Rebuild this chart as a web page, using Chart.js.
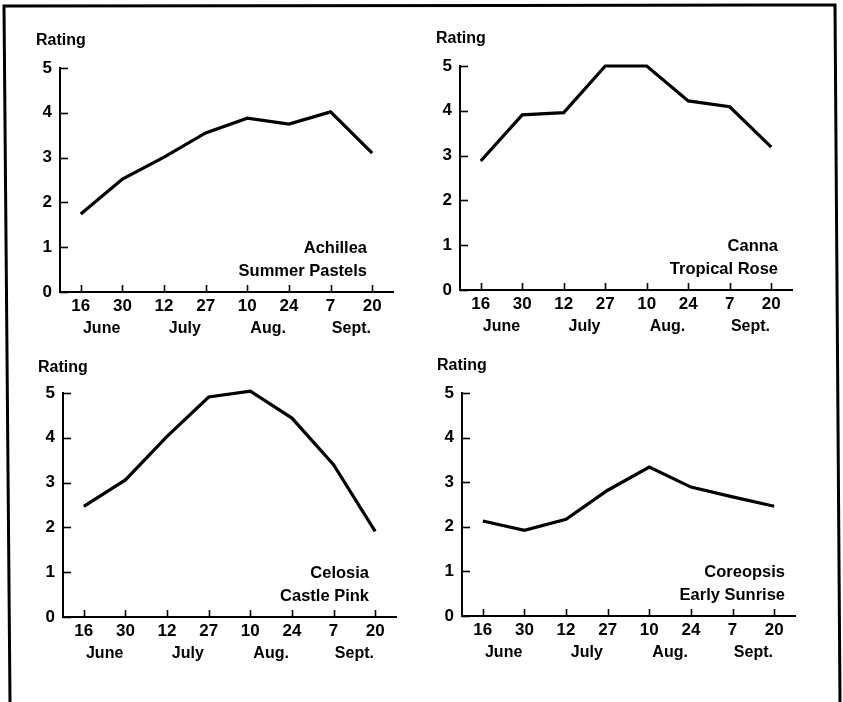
<!DOCTYPE html>
<html>
<head>
<meta charset="utf-8">
<script src="https://cdn.jsdelivr.net/npm/chart.js@4"></script>
<style>
  html, body { margin: 0; padding: 0; background: #fff; }
  #wrap { position: relative; width: 843px; height: 702px; overflow: hidden; background: #fff; }
  canvas { position: absolute; }
  svg { position: absolute; left: 0; top: 0; }
</style>
</head>
<body>
<div id="wrap">
  <canvas id="c1" width="421" height="345" style="left:0px;top:0px"></canvas>
  <canvas id="c2" width="422" height="345" style="left:421px;top:0px"></canvas>
  <canvas id="c3" width="421" height="357" style="left:0px;top:345px"></canvas>
  <canvas id="c4" width="422" height="357" style="left:421px;top:345px"></canvas>
  <svg width="843" height="702">
    <polyline points="10,702 4,6 835,5 840,702" fill="none" stroke="#000" stroke-width="3"/>
  </svg>
</div>
<script>
// ---- data ----
const categories = ['16', '30', '12', '27', '10', '24', '7', '20'];
const months = ['June', 'July', 'Aug.', 'Sept.'];
const yTicks = [0, 1, 2, 3, 4, 5];
const yAxisLabel = 'Rating';
const achillea = [1.74, 2.52, 3.01, 3.55, 3.88, 3.75, 4.02, 3.10];
const canna = [2.88, 3.91, 3.96, 5.00, 5.00, 4.22, 4.09, 3.19];
const celosia = [2.47, 3.06, 4.03, 4.91, 5.04, 4.44, 3.40, 1.91];
const coreopsis = [2.13, 1.92, 2.17, 2.82, 3.34, 2.89, 2.67, 2.46];
const names1 = ['Achillea', 'Summer Pastels'];
const names2 = ['Canna', 'Tropical Rose'];
const names3 = ['Celosia', 'Castle Pink'];
const names4 = ['Coreopsis', 'Early Sunrise'];

// ---- layout (positions only) ----
const panels = [
  { id: 'c1', values: achillea, names: names1, padTop: 68, yW: 60, padRight: 28, xH: 53, nameRight: 26, ratingDy: 23, ratingDx: 24 },
  { id: 'c2', values: canna, names: names2, padTop: 66, yW: 39, padRight: 51, xH: 55, nameRight: 14, ratingDy: 23, ratingDx: 24 },
  { id: 'c3', values: celosia, names: names3, padTop: 48, yW: 63, padRight: 25, xH: 85, nameRight: 27, ratingDy: 21, ratingDx: 25 },
  { id: 'c4', values: coreopsis, names: names4, padTop: 48, yW: 41, padRight: 48, xH: 86, nameRight: 10, ratingDy: 23, ratingDx: 25 }
];

const FONT = "'Liberation Sans', Arial, sans-serif";

const decoPlugin = {
  id: 'deco',
  afterDraw(chart, args, opts) {
    const ctx = chart.ctx;
    const ca = chart.chartArea;
    const xs = chart.scales.x, ys = chart.scales.y;
    ctx.save();
    ctx.strokeStyle = '#000';
    ctx.lineWidth = 1.6;
    // y tick marks (inside)
    ys.ticks.forEach(t => {
      const y = Math.round(ys.getPixelForValue(t.value)) + 0.5;
      ctx.beginPath();
      ctx.moveTo(ca.left, y);
      ctx.lineTo(ca.left + 8, y);
      ctx.stroke();
    });
    // x tick marks (inside)
    categories.forEach((c, i) => {
      const x = Math.round(xs.getPixelForValue(i)) + 0.5;
      ctx.beginPath();
      ctx.moveTo(x, ca.bottom);
      ctx.lineTo(x, ca.bottom - 7);
      ctx.stroke();
    });
    ctx.fillStyle = '#000';
    // months centered between pairs
    ctx.font = 'bold 16px ' + FONT;
    ctx.textAlign = 'center';
    ctx.textBaseline = 'alphabetic';
    months.forEach((m, k) => {
      const x = xs.getPixelForValue(2 * k + 0.5);
      ctx.fillText(m, x, ca.bottom + opts.monthDy);
    });
    // Rating label
    ctx.textAlign = 'left';
    ctx.font = 'bold 16px ' + FONT;
    ctx.fillText(yAxisLabel, ca.left - opts.ratingDx, ca.top - opts.ratingDy);
    // plant names
    ctx.textAlign = 'right';
    ctx.font = 'bold 16.5px ' + FONT;
    ctx.fillText(opts.names[0], ca.right - opts.nameRight, ca.bottom - 39);
    ctx.fillText(opts.names[1], ca.right - opts.nameRight, ca.bottom - 16);
    ctx.restore();
  }
};

panels.forEach(p => {
  new Chart(document.getElementById(p.id), {
    type: 'line',
    data: {
      labels: categories,
      datasets: [{
        data: p.values,
        borderColor: '#000',
        borderWidth: 3.2,
        pointRadius: 0,
        tension: 0,
        fill: false,
        clip: false
      }]
    },
    options: {
      responsive: false,
      animation: false,
      devicePixelRatio: 1,
      layout: { padding: { top: p.padTop, right: p.padRight, left: 0, bottom: 0 } },
      plugins: {
        legend: { display: false },
        tooltip: { enabled: false },
        title: { display: false },
        deco: { names: p.names, nameRight: p.nameRight, ratingDy: p.ratingDy, ratingDx: p.ratingDx, monthDy: 41 }
      },
      scales: {
        x: {
          type: 'category',
          offset: true,
          grid: { display: false, drawTicks: false },
          border: { display: true, color: '#000', width: 2 },
          ticks: { color: '#000', font: { family: FONT, size: 17, weight: 'bold' }, padding: 4, maxRotation: 0, autoSkip: false },
          afterFit: s => { s.height = p.xH; }
        },
        y: {
          min: 0, max: 5,
          afterBuildTicks: s => { s.ticks = yTicks.map(v => ({ value: v })); },
          grid: { display: false, drawTicks: false },
          border: { display: true, color: '#000', width: 2 },
          ticks: { color: '#000', font: { family: FONT, size: 17, weight: 'bold' }, padding: 8 },
          afterFit: s => { s.width = p.yW; }
        }
      }
    },
    plugins: [decoPlugin]
  });
});
</script>
</body>
</html>
